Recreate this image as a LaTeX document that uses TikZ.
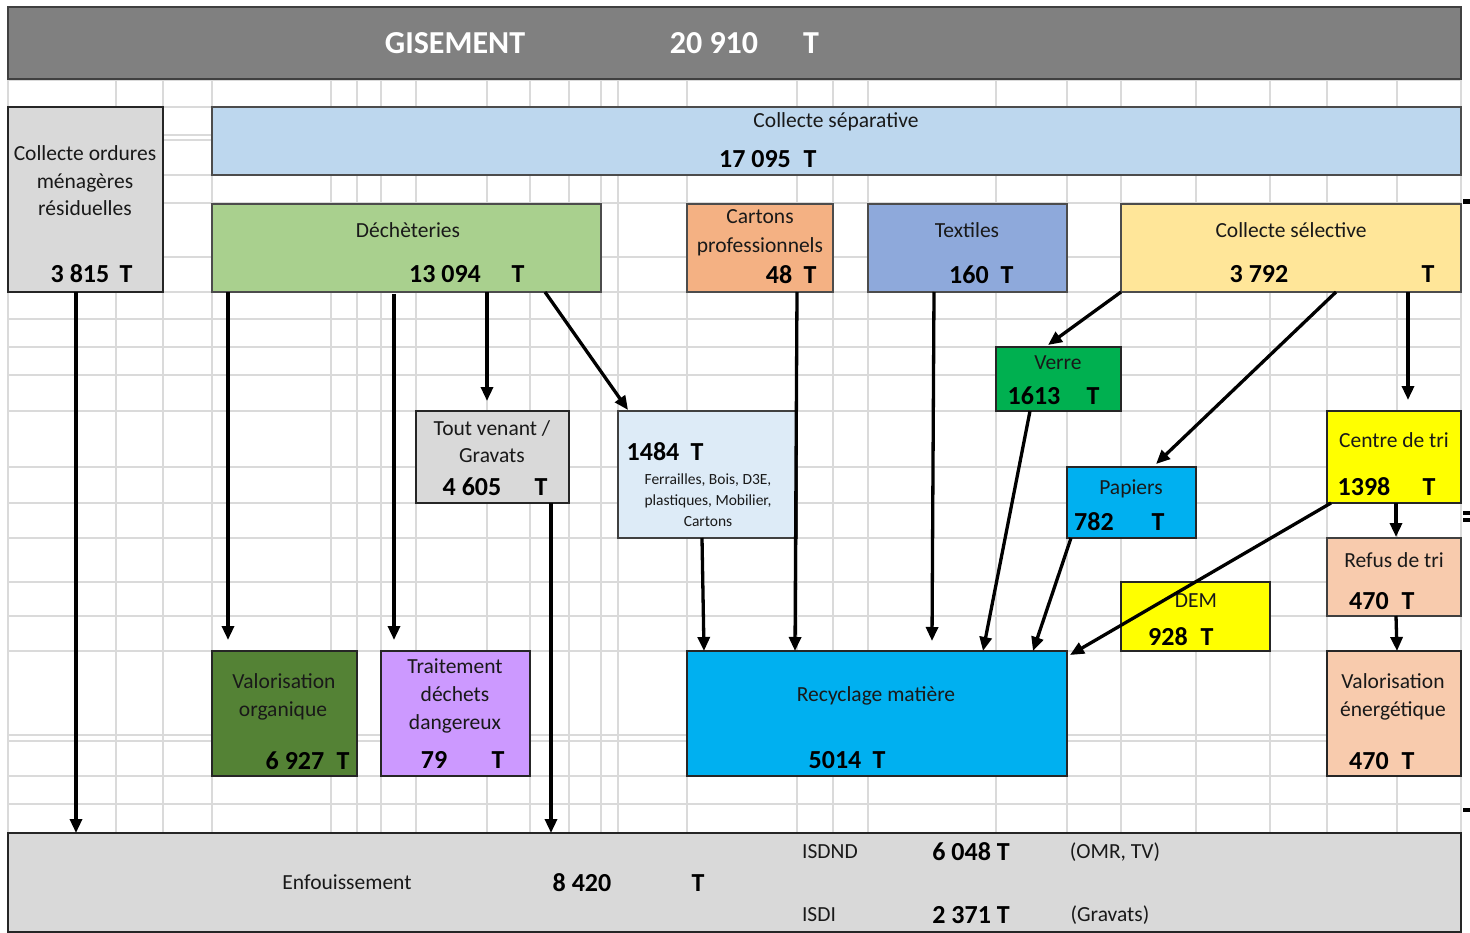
\documentclass[tikz,border=0pt]{standalone}
\usepackage{fontspec}
\setmainfont{Carlito}
\usetikzlibrary{arrows.meta,calc}
\definecolor{hdr}{HTML}{808080}
\definecolor{lgray}{HTML}{D9D9D9}
\definecolor{sepc}{HTML}{BDD7EE}
\definecolor{dechc}{HTML}{A9D08E}
\definecolor{cartc}{HTML}{F4B183}
\definecolor{textc}{HTML}{8EA9DB}
\definecolor{cselc}{HTML}{FFE699}
\definecolor{verrec}{HTML}{00B050}
\definecolor{ferrc}{HTML}{DDEBF7}
\definecolor{yelc}{HTML}{FFFF00}
\definecolor{papc}{HTML}{00B0F0}
\definecolor{peachc}{HTML}{F8CBAD}
\definecolor{vorgc}{HTML}{548235}
\definecolor{purpc}{HTML}{CC99FF}
\definecolor{gridc}{HTML}{DADADA}
\definecolor{bordc}{HTML}{262626}
\begin{document}
\begin{tikzpicture}[x=1pt,y=-1pt,
  box/.style={draw=bordc, line width=1.5pt, inner sep=0pt, outer sep=0pt, anchor=north west},
  lbl/.style={inner sep=0pt, anchor=base, text=black!90, font=\fontsize{21.5}{25}\selectfont},
  small/.style={inner sep=0pt, anchor=base, text=black!90, font=\fontsize{15.5}{18}\selectfont},
  num/.style={inner sep=0pt, anchor=base, text=black, font=\fontsize{26}{30}\selectfont\bfseries},
  head/.style={inner sep=0pt, anchor=base, text=white, font=\fontsize{32}{36}\selectfont\bfseries},
  flow/.style={line width=3.3pt, draw=black, -{Triangle[length=14pt,width=12pt]}},
  gridl/.style={draw=gridc, line width=1.3pt}]
\useasboundingbox (0,0) rectangle (1470,933);
\fill[white] (0,0) rectangle (1470,933);
% spreadsheet grid
\foreach \gy in {80,107,135,140,175,203,257,292,319,347,375,411,467,503,538,582,616,651,735,741,776,804,833}
  \draw[gridl] (8,\gy) -- (1461,\gy);
\foreach \gx in {8,116,163,212,331,357,381,416,487,530,569,601,618,687,797,833,868,996,1067,1121,1196,1270,1327,1397,1461}
  \draw[gridl] (\gx,80) -- (\gx,833);
% small marks at right edge
\fill[black] (1463,199) rectangle (1470,204);
\fill[black] (1463,511) rectangle (1470,515);
\fill[black] (1463,518) rectangle (1470,522);
\fill[black] (1463,808) rectangle (1470,812);
% boxes
\node[box, draw=black!75, line width=2.5pt, fill=hdr, minimum width=1453, minimum height=72] (gis) at (8,7) {};
\node[box, fill=lgray, minimum width=155, minimum height=185] (comr) at (8,107) {};
\node[box, draw=black!70, fill=sepc, minimum width=1249, minimum height=68] (sep) at (212,107) {};
\node[box, draw=black!70, fill=dechc, minimum width=389, minimum height=88] (dech) at (212,204) {};
\node[box, draw=black!70, fill=cartc, minimum width=146, minimum height=88] (cart) at (687,204) {};
\node[box, draw=black!70, fill=textc, minimum width=199, minimum height=88] (texti) at (868,204) {};
\node[box, draw=black!70, fill=cselc, minimum width=340, minimum height=88] (csel) at (1121,204) {};
\node[box, fill=verrec, minimum width=125, minimum height=64] (verre) at (996,347) {};
\node[box, fill=lgray, minimum width=153, minimum height=92] (tv) at (416,411) {};
\node[box, draw=black!75, fill=ferrc, minimum width=179, minimum height=127] (ferr) at (618,411) {};
\node[box, fill=yelc, minimum width=134, minimum height=92] (cdt) at (1327,411) {};
\node[box, fill=papc, minimum width=129, minimum height=71] (pap) at (1067,467) {};
\node[box, draw=black!75, fill=peachc, minimum width=134, minimum height=78] (refus) at (1327,538) {};
\node[box, fill=yelc, minimum width=149, minimum height=69] (dem) at (1121,582) {};
\node[box, fill=vorgc, minimum width=145, minimum height=125] (vorg) at (212,651) {};
\node[box, fill=purpc, minimum width=149, minimum height=125] (trait) at (381,651) {};
\node[box, fill=papc, minimum width=380, minimum height=125] (recy) at (687,651) {};
\node[box, fill=peachc, minimum width=134, minimum height=125] (venerg) at (1327,651) {};
\node[box, fill=lgray, minimum width=1453, minimum height=99] (enf) at (8,833) {};
% header texts
\node[head] (h1) at (455,54) {GISEMENT};
\node[head] (h2) at (714,54) {20 910};
\node[head] (h3) at (811,54) {T};
% texts
\node[lbl] (c1) at (85,161) {Collecte ordures};
\node[lbl] (c2) at (85,189) {ménagères};
\node[lbl] (c3) at (85,216) {résiduelles};
\node[num] (c4) at (80,283) {3 815};
\node[num] (c5) at (126,283) {T};
\node[lbl] (s1) at (836,128) {Collecte séparative};
\node[num] (s2) at (755,168) {17 095};
\node[num] (s3) at (810,168) {T};
\node[lbl] (d1) at (408,238) {Déchèteries};
\node[num] (d2) at (445,283) {13 094};
\node[num] (d3) at (518,283) {T};
\node[lbl] (k1) at (760,224) {Cartons};
\node[lbl] (k2) at (760,253) {professionnels};
\node[num] (k3) at (779,284) {48};
\node[num] (k4) at (810,284) {T};
\node[lbl] (x1) at (967,238) {Textiles};
\node[num] (x2) at (969,284) {160};
\node[num] (x3) at (1007,284) {T};
\node[lbl] (e1) at (1291,238) {Collecte sélective};
\node[num] (e2) at (1259,283) {3 792};
\node[num] (e3) at (1428,283) {T};
\node[lbl] (v1) at (1058,369) {Verre};
\node[num] (v2) at (1034,404) {1613};
\node[num] (v3) at (1093,404) {T};
\node[lbl] (g1) at (492,435) {Tout venant /};
\node[lbl] (g2) at (492,462) {Gravats};
\node[num] (g3) at (472,495) {4 605};
\node[num] (g4) at (541,495) {T};
\node[num] (f1) at (653,460) {1484};
\node[num] (f2) at (697,460) {T};
\node[small] (f3) at (708,484) {Ferrailles, Bois, D3E,};
\node[small] (f4) at (708,505) {plastiques, Mobilier,};
\node[small] (f5) at (708,526) {Cartons};
\node[lbl] (t1) at (1394,447) {Centre de tri};
\node[num] (t2) at (1364,495) {1398};
\node[num] (t3) at (1429,495) {T};
\node[lbl] (p1) at (1131,494) {Papiers};
\node[num] (p2) at (1094,530) {782};
\node[num] (p3) at (1158,530) {T};
\node[lbl] (r1) at (1394,567) {Refus de tri};
\node[num] (r2) at (1369,609) {470};
\node[num] (r3) at (1408,609) {T};
\node[lbl] (m1) at (1196,607) {DEM};
\node[num] (m2) at (1168,645) {928};
\node[num] (m3) at (1207,645) {T};
\node[lbl] (o1) at (284,688) {Valorisation};
\node[lbl] (o2) at (283,716) {organique};
\node[num] (o3) at (295,769) {6 927};
\node[num] (o4) at (343,769) {T};
\node[lbl] (a1) at (455,673) {Traitement};
\node[lbl] (a2) at (455,701) {déchets};
\node[lbl] (a3) at (455,729) {dangereux};
\node[num] (a4) at (434,768) {79};
\node[num] (a5) at (498,768) {T};
\node[lbl] (y1) at (876,701) {Recyclage matière};
\node[num] (y2) at (835,768) {5014};
\node[num] (y3) at (879,768) {T};
\node[lbl] (n1) at (1393,688) {Valorisation};
\node[lbl] (n2) at (1393,716) {énergétique};
\node[num] (n3) at (1369,769) {470};
\node[num] (n4) at (1408,769) {T};
\node[lbl] (b1) at (347,889) {Enfouissement};
\node[num] (b2) at (582,891) {8 420};
\node[num] (b3) at (698,891) {T};
\node[lbl] (b4) at (830,858) {ISDND};
\node[num] (b5) at (971,860) {6 048 T};
\node[lbl] (b6) at (1115,858) {(OMR, TV)};
\node[lbl] (b7) at (819,921) {ISDI};
\node[num] (b8) at (971,923) {2 371 T};
\node[lbl] (b9) at (1110,921) {(Gravats)};
% flows
\draw[flow] ($(comr.south west)+(68,0)$) -- ($(enf.north west)+(68,0)$);
\draw[flow] ($(dech.south west)+(16,0)$) -- ($(vorg.north west)+(16,-11)$);
\draw[flow] ($(dech.south west)+(182,2)$) -- ($(trait.north west)+(13,-11)$);
\draw[flow] ($(dech.south west)+(275,0)$) -- ($(tv.north west)+(71,-10)$);
\draw[flow] ($(dech.south west)+(333,0)$) -- ($(ferr.north west)+(10,-1)$);
\draw[flow] ($(tv.south west)+(135,0)$) -- ($(enf.north west)+(543,0)$);
\draw[flow] ($(ferr.south west)+(84,0)$) -- ($(recy.north west)+(17,0)$);
\draw[flow] ($(cart.south west)+(110,0)$) -- ($(recy.north west)+(108,0)$);
\draw[flow] ($(texti.south west)+(66,0)$) -- ($(recy.north west)+(245,-10)$);
\draw[flow] (csel.south west) -- ($(verre.north west)+(52,-2)$);
\draw[flow] ($(csel.south west)+(215,0)$) -- ($(pap.north west)+(89,-3)$);
\draw[flow] ($(csel.south west)+(287,0)$) -- ($(cdt.north west)+(81,-11)$);
\draw[flow] ($(verre.south west)+(34,0)$) -- ($(recy.north west)+(296,0)$);
\draw[flow] ($(pap.south west)+(4,0)$) -- ($(recy.north west)+(346,0)$);
\draw[flow] ($(cdt.south west)+(4,0)$) -- ($(recy.north east)+(3,4)$);
\draw[flow] ($(cdt.south west)+(69,0)$) -- ($(refus.north west)+(69,-1)$);
\draw[flow] ($(refus.south west)+(69,0)$) -- ($(venerg.north west)+(70,0)$);
\end{tikzpicture}
\end{document}
